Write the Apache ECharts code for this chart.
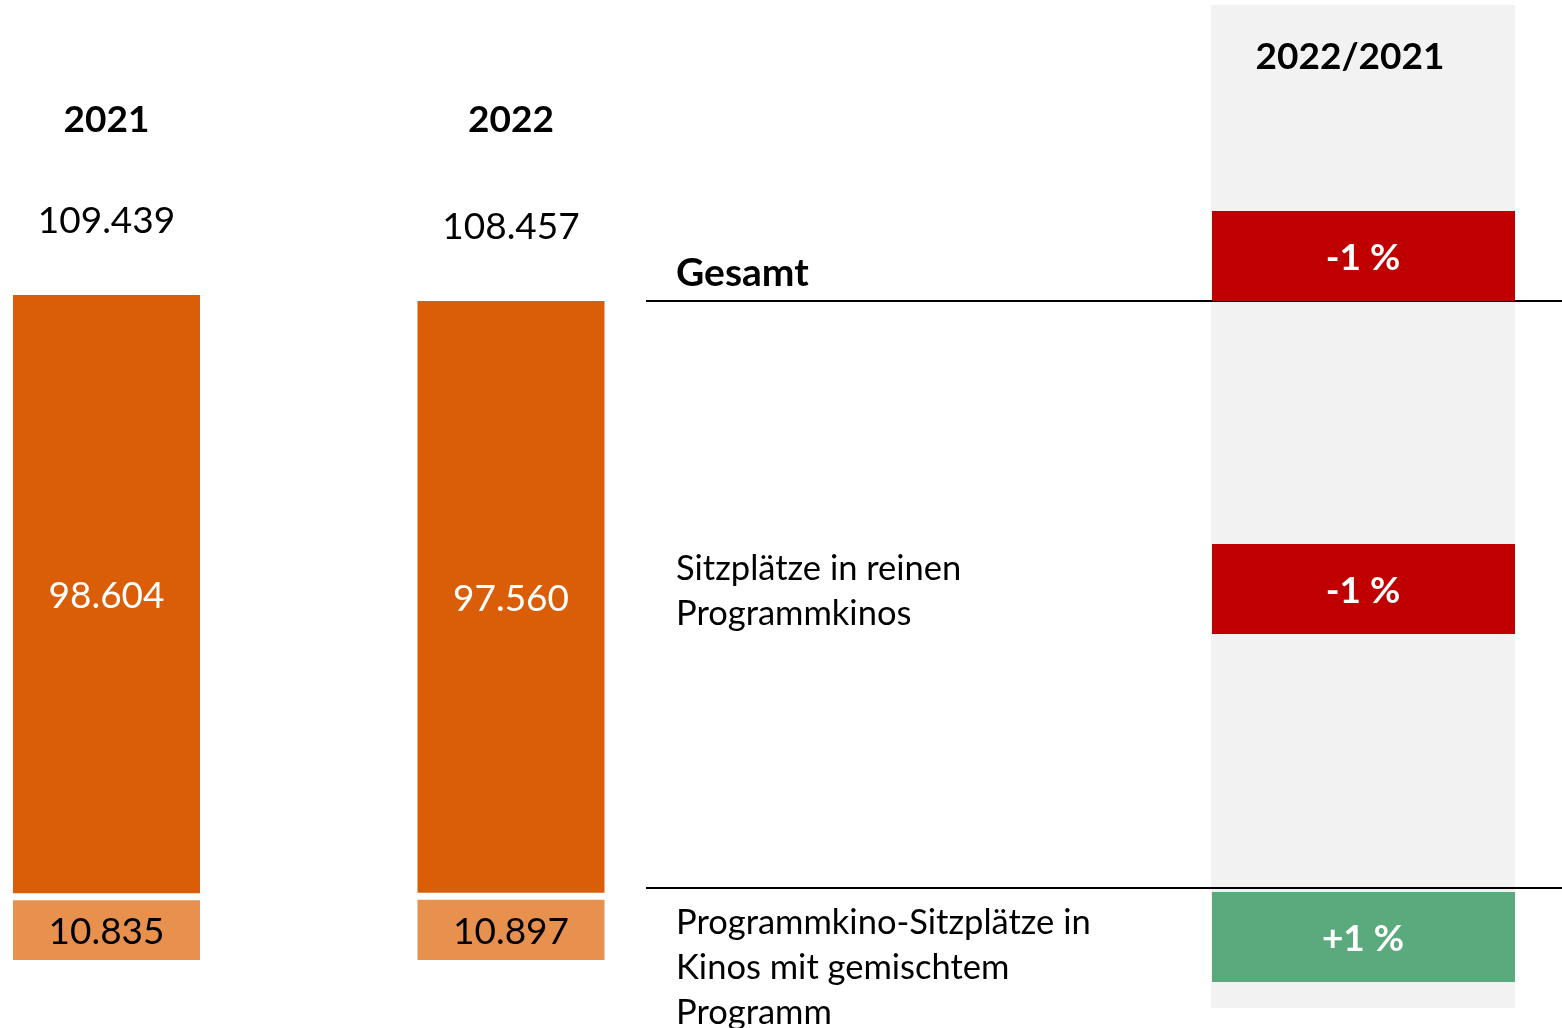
<!DOCTYPE html>
<html>
<head>
<meta charset="utf-8">
<script src="https://cdn.jsdelivr.net/npm/echarts@6/dist/echarts.min.js"></script>
<style>
  html, body { margin: 0; padding: 0; background: #ffffff; }
  #chart { width: 1562px; height: 1028px; }
</style>
</head>
<body>
<div id="chart"></div>
<script>
// ---- data ----
const years = ['2021', '2022'];
const mixedSeats = [10835, 10897];   // Programmkino-Sitzplätze in Kinos mit gemischtem Programm
const pureSeats = [98604, 97560];    // Sitzplätze in reinen Programmkinos
const totals = [109439, 108457];     // Gesamt
const rowLabels = ['Gesamt', 'Sitzplätze in reinen\nProgrammkinos', 'Programmkino-Sitzplätze in\nKinos mit gemischtem\nProgramm'];
const changes = ['-1 %', '-1 %', '+1 %'];
const changeHeader = '2022/2021';

// ---- styling ----
const FONT = 'Lato';
const DARK = '#DA5E08';
const LIGHT = '#E8914F';
const RED = '#C00000';
const GREEN = '#5BAA7E';
const GRAY = '#F2F2F2';
const Y_MAX = 150000;

function fmt(n) { return String(n).replace(/\B(?=(\d{3})+(?!\d))/g, '.'); }

const chart = echarts.init(document.getElementById('chart'), null, { renderer: 'canvas' });

const barData = years.map((y, i) => [i, mixedSeats[i], pureSeats[i], totals[i]]);

function renderBar(params, api) {
  const i = api.value(0);
  const b = api.value(1), t = api.value(2), tot = api.value(3);
  const p0 = api.coord([i, 0]);
  const p1 = api.coord([i, b]);
  const p2 = api.coord([i, b + t]);
  const pTop = api.coord([i, Y_MAX]);
  const w = 187;
  const x = p0[0] - w / 2;
  const topY0 = p2[1], topY1 = p1[1] - 1;
  const botY0 = p1[1] + 6, botY1 = p0[1];
  return {
    type: 'group',
    children: [
      { type: 'rect', shape: { x: x, y: topY0, width: w, height: topY1 - topY0 }, style: { fill: DARK } },
      { type: 'rect', shape: { x: x, y: botY0, width: w, height: botY1 - botY0 }, style: { fill: LIGHT } },
      { type: 'text', x: p0[0], y: pTop[1] + 71.4, style: { text: years[i], fill: '#000', font: 'bold 37px ' + FONT, align: 'center', verticalAlign: 'middle' } },
      { type: 'text', x: p0[0], y: topY0 - 74, style: { text: fmt(tot), fill: '#000', font: '37px ' + FONT, align: 'center', verticalAlign: 'middle' } },
      { type: 'text', x: p0[0], y: (topY0 + topY1) / 2 + 2, style: { text: fmt(t), fill: '#fff', font: '37px ' + FONT, align: 'center', verticalAlign: 'middle' } },
      { type: 'text', x: p0[0], y: (botY0 + botY1) / 2 + 2, style: { text: fmt(b), fill: '#000', font: '37px ' + FONT, align: 'center', verticalAlign: 'middle' } }
    ]
  };
}

// right panel layout
const boxTops = [211, 544, 892];
const labelCentersY = [272, 590, 967];
const graphics = [];
graphics.push({ type: 'rect', z: 0, shape: { x: 1211, y: 5, width: 304, height: 1003 }, style: { fill: GRAY } });
graphics.push({ type: 'line', z: 1, shape: { x1: 646, y1: 301, x2: 1562, y2: 301 }, style: { stroke: '#000', lineWidth: 2 } });
graphics.push({ type: 'line', z: 1, shape: { x1: 646, y1: 888, x2: 1562, y2: 888 }, style: { stroke: '#000', lineWidth: 2 } });
graphics.push({ type: 'text', z: 3, x: 1350, y: 57, style: { text: changeHeader, fill: '#000', font: 'bold 37px ' + FONT, align: 'center', verticalAlign: 'middle' } });
changes.forEach((c, k) => {
  const neg = c.trim().startsWith('-');
  graphics.push({ type: 'rect', z: 2, shape: { x: 1212, y: boxTops[k], width: 303, height: 90 }, style: { fill: neg ? RED : GREEN } });
  graphics.push({ type: 'text', z: 3, x: 1363, y: boxTops[k] + 47, style: { text: c, fill: '#fff', font: 'bold 37px ' + FONT, align: 'center', verticalAlign: 'middle' } });
});
rowLabels.forEach((l, k) => {
  graphics.push({ type: 'text', z: 3, x: 676, y: labelCentersY[k] + (k === 0 ? 1 : 1), style: { text: l, fill: '#000', font: (k === 0 ? 'bold 39px ' : '34.5px ') + FONT, lineHeight: 45, align: 'left', verticalAlign: 'middle' } });
});

// x scale: category 0 centred at x=106.5, category 1 at x=511 (404.5 px apart)
const X_MIN = -106.5 / 404.5;
const X_MAX = X_MIN + 1562 / 404.5;

chart.setOption({
  animation: false,
  backgroundColor: '#ffffff',
  grid: { left: 0, right: 0, top: 48.6, bottom: 68, containLabel: false },
  xAxis: { type: 'value', min: X_MIN, max: X_MAX, show: false, splitLine: { show: false } },
  yAxis: { type: 'value', min: 0, max: Y_MAX, show: false, splitLine: { show: false } },
  graphic: graphics,
  series: [{
    type: 'custom',
    renderItem: renderBar,
    data: barData,
    encode: { x: 0, y: [1, 2] },
    clip: false
  }]
});
</script>
</body>
</html>
